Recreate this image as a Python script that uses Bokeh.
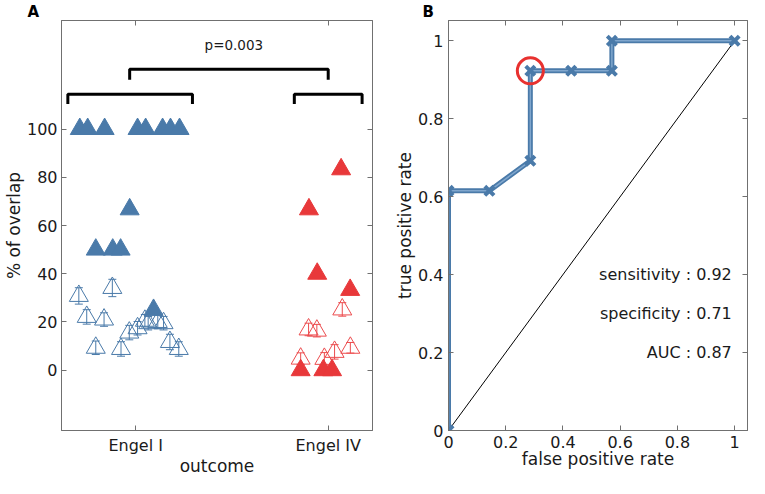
from bokeh.plotting import figure
from bokeh.layouts import row
from bokeh.models import Range1d, LinearAxis, FixedTicker
from bokeh.core.properties import value
from bokeh.embed import file_html
from bokeh.resources import INLINE

FONT = "DejaVu Sans"

# ---------------- Panel A data ----------------
group_names = ["Engel I", "Engel IV"]
group_pos = [1, 2]
y_ticks_a = [0, 20, 40, 60, 80, 100]

e1_filled_x = [0.710, 0.751, 0.839, 1.010, 1.052, 1.140, 1.181, 1.228, 0.969, 0.793, 0.881, 0.922, 1.093]
e1_filled_y = [100, 100, 100, 100, 100, 100, 100, 100, 66.7, 50, 50, 50, 25]
e1_open_x = [0.705, 0.746, 0.836, 0.879, 0.793, 0.924, 0.967, 1.010, 1.048, 1.065, 1.115, 1.145, 1.178, 1.224]
e1_open_y = [30.8, 22.1, 21.0, 34.1, 9.3, 8.8, 15.6, 17.4, 20.5, 19.5, 20.0, 19.5, 11.7, 8.8]
e1_open_err = [3.4, 3.0, 2.8, 3.6, 2.8, 3.0, 3.0, 2.8, 2.6, 2.8, 2.8, 2.8, 3.2, 3.0]

e4_filled_x = [2.067, 1.900, 1.943, 2.114, 1.857, 1.975, 2.020]
e4_filled_y = [83.3, 66.7, 40, 33.3, 0, 0, 0]
e4_open_x = [2.073, 1.898, 1.941, 1.857, 1.980, 2.033, 2.115]
e4_open_y = [25.2, 16.9, 16.4, 4.8, 4.7, 7.6, 9.3]
e4_open_err = [2.8, 2.6, 2.6, 2.4, 2.6, 3.0, 2.2]

# significance brackets (data units)
bracket_xs = [[0.648, 0.648, 1.295, 1.295], [1.824, 1.824, 2.176, 2.176], [0.969, 0.969, 2.0, 2.0]]
bracket_ys = [[110.4, 114.4, 114.4, 110.4], [110.4, 114.4, 114.4, 110.4], [120.4, 124.8, 124.8, 120.4]]
p_text = "p=0.003"
p_text_xy = (1.51, 134.8)

# ---------------- Panel B data ----------------
fpr = [0, 0, 0.143, 0.286, 0.286, 0.429, 0.571, 0.571, 1.0]
tpr = [0, 0.615, 0.615, 0.692, 0.923, 0.923, 0.923, 1.0, 1.0]
best_idx = 4
roc_ticks = [0, 0.2, 0.4, 0.6, 0.8, 1]
stat_labels = ["sensitivity : 0.92", "specificity : 0.71", "AUC : 0.87"]
stat_y = [0.4, 0.3, 0.2]
stat_x = 0.99

BLUE = "#4a7aa9"
BLUE_LIGHT = "#8db2d6"
RED = "#e8383a"
RED_OPEN = "#ec4c4e"
AXIS = "#707070"
TXT = "#1a1a1a"
TICK_FS = "16px"
LABEL_FS = "17px"


def style(p, panel_letter, letter_offset):
    p.xgrid.visible = False
    p.ygrid.visible = False
    p.outline_line_color = AXIS
    p.outline_line_width = 1
    p.background_fill_color = "white"
    p.border_fill_color = "white"
    for ax in p.axis:
        ax.axis_line_color = AXIS
        ax.major_tick_line_color = AXIS
        ax.major_tick_in = 5
        ax.major_tick_out = 0
        ax.minor_tick_line_color = None
        ax.major_label_text_font = FONT
        ax.major_label_text_font_size = TICK_FS
        ax.major_label_text_color = TXT
        ax.major_label_text_line_height = 1.0
        ax.axis_label_text_font = FONT
        ax.axis_label_text_font_size = LABEL_FS
        ax.axis_label_text_font_style = "normal"
        ax.axis_label_text_color = TXT
        ax.axis_label_text_line_height = 1.0
        ax.axis_label_standoff = 0
    p.xaxis.major_label_standoff = 5
    p.xaxis.axis_label_standoff = -2
    p.title.text = panel_letter
    p.title.align = "left"
    p.title.offset = letter_offset
    p.title.standoff = 0
    p.title.text_font = FONT
    p.title.text_font_size = "15px"
    p.title.text_font_style = "bold"
    p.title.text_color = "black"


def mirror(p, xticks, yticks):
    top = LinearAxis(ticker=FixedTicker(ticks=xticks), major_label_text_color=None,
                     major_label_standoff=0)
    right = LinearAxis(ticker=FixedTicker(ticks=yticks), major_label_text_color=None,
                       major_label_standoff=0)
    p.add_layout(top, "above")
    p.add_layout(right, "right")
    for ax in (top, right):
        ax.axis_line_color = AXIS
        ax.major_tick_line_color = AXIS
        ax.major_tick_in = 5
        ax.major_tick_out = 0
        ax.minor_tick_line_color = None
        ax.major_label_text_font_size = "1px"


# ---------------- Panel A ----------------
pa = figure(width=385, height=478, output_backend="svg", toolbar_location=None,
            x_range=Range1d(0.615, 2.23), y_range=Range1d(-25, 145),
            min_border_left=60, min_border_right=13, min_border_top=18, min_border_bottom=0)
pa.xaxis.ticker = FixedTicker(ticks=group_pos)
pa.xaxis.major_label_overrides = {group_pos[i]: group_names[i] for i in range(len(group_pos))}
pa.yaxis.ticker = FixedTicker(ticks=y_ticks_a)
pa.xaxis.axis_label = "outcome"
pa.yaxis.axis_label = "% of overlap"
style(pa, "A", -34)
pa.yaxis.major_label_standoff = 4
mirror(pa, group_pos, y_ticks_a)

# open triangles with error bars
for ox, oy, oe, col in ((e1_open_x, e1_open_y, e1_open_err, BLUE),
                        (e4_open_x, e4_open_y, e4_open_err, RED_OPEN)):
    lo = [y - e for y, e in zip(oy, oe)]
    hi = [y + e for y, e in zip(oy, oe)]
    pa.scatter(ox, oy, marker="triangle", size=19, fill_color=None, line_color=col, line_width=1)
    pa.segment(x0=ox, y0=lo, x1=ox, y1=hi, line_color=col, line_width=1)
    pa.scatter(ox, lo, marker="dash", size=8, line_color=col, line_width=1)
    pa.scatter(ox, hi, marker="dash", size=8, line_color=col, line_width=1)

pa.scatter(e1_filled_x, e1_filled_y, marker="triangle", size=19, fill_color=BLUE, line_color=BLUE, line_width=1)
pa.scatter(e4_filled_x, e4_filled_y, marker="triangle", size=19, fill_color=RED, line_color=RED, line_width=1)

pa.multi_line(bracket_xs, bracket_ys, line_color="black", line_width=3)
pa.text(x=[p_text_xy[0]], y=[p_text_xy[1]], text=[p_text], text_align="center", text_baseline="middle",
        text_font=value(FONT), text_font_size="13.5px", text_color=TXT)

# ---------------- Panel B ----------------
pb = figure(width=364, height=478, output_backend="svg", toolbar_location=None,
            x_range=Range1d(0, 1.045), y_range=Range1d(0, 1.052),
            min_border_left=63, min_border_right=2, min_border_top=18, min_border_bottom=0)
pb.xaxis.ticker = FixedTicker(ticks=roc_ticks)
pb.yaxis.ticker = FixedTicker(ticks=roc_ticks)
pb.xaxis.major_label_overrides = {0: "0", 1: "1"}
pb.yaxis.major_label_overrides = {0: "0", 1: "1"}
pb.xaxis.axis_label = "false positive rate"
pb.yaxis.axis_label = "true positive rate"
style(pb, "B", -26)
pb.yaxis.major_label_standoff = 5
mirror(pb, roc_ticks, roc_ticks)

pb.line([0, 1], [0, 1], line_color="black", line_width=1)
pb.line(fpr, tpr, line_color=BLUE, line_width=5)
pb.line(fpr, tpr, line_color=BLUE_LIGHT, line_width=1.5, line_alpha=0.8)
pb.scatter(fpr, tpr, marker="x", size=13, line_color=BLUE, line_width=4)
pb.scatter([fpr[best_idx]], [tpr[best_idx]], marker="circle", size=26, fill_color=None,
           line_color="#e8312f", line_width=3)
pb.text(x=[stat_x] * len(stat_y), y=stat_y, text=stat_labels, text_align="right", text_baseline="middle",
        text_font=value(FONT), text_font_size=TICK_FS, text_color=TXT)

layout = row(pa, pb)
open("out.html", "w").write(file_html(layout, INLINE))
